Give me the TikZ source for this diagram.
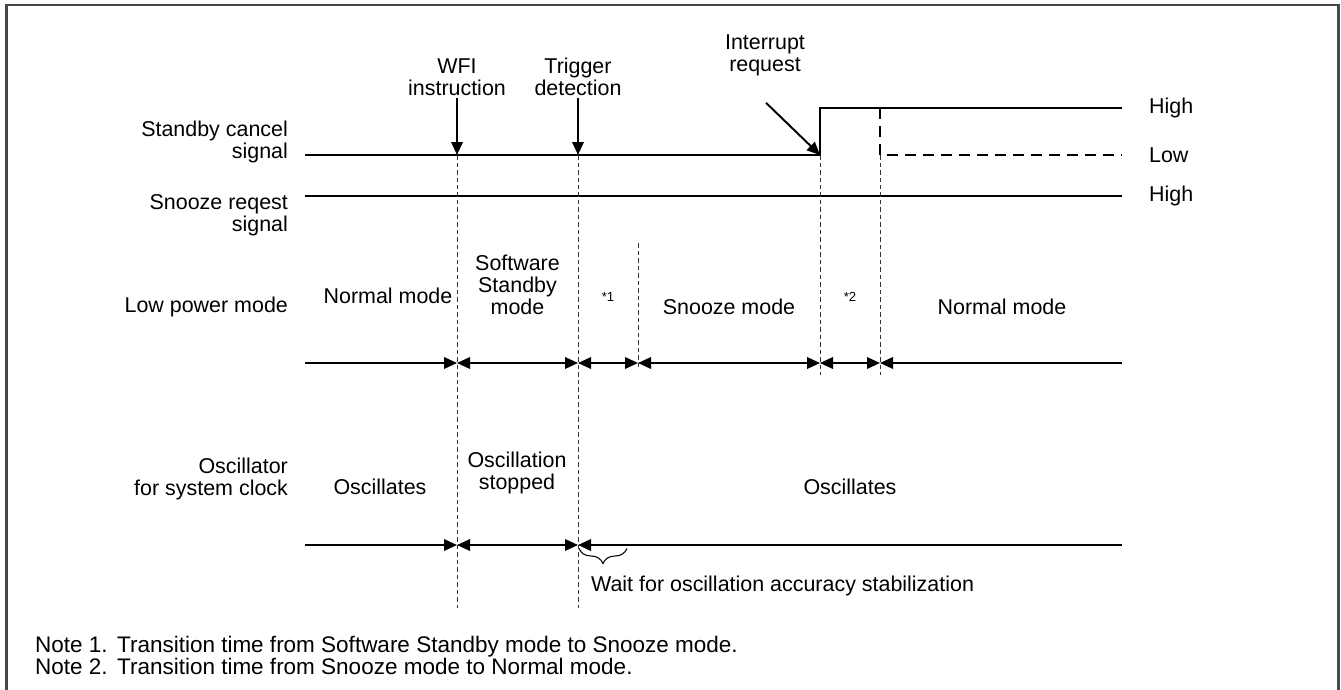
\documentclass[tikz,border=0pt]{standalone}
\usepackage{fontspec}
\setmainfont{Liberation Sans}
\usetikzlibrary{arrows.meta,decorations.pathreplacing,positioning}

\tikzset{
  sig/.style={line width=1.1pt},
  guide/.style={line width=0.55pt, dash pattern=on 0.09cm off 0.06cm, black!80},
  tip/.style={-{Triangle[length=0.26cm,width=0.23cm]}},
  span/.style={sig, {Triangle[length=0.26cm,width=0.23cm]}-{Triangle[length=0.26cm,width=0.23cm]}},
  lbl/.style={font=\fontsize{12.2}{12.6}\selectfont, inner sep=1pt, align=center},
  rowlbl/.style={lbl, align=right, anchor=east},
  notelbl/.style={font=\fontsize{12.8}{13}\selectfont, inner sep=1pt, anchor=base west},
  star/.style={font=\fontsize{7.5}{8}\selectfont, inner sep=0pt}
}

\begin{document}
\begin{tikzpicture}
    \useasboundingbox (0,0) rectangle (26.82,-13.8);
    % outer frame (open at the bottom)
    \draw[line width=1.2pt, black!72] (0.13,-13.8) |- (26.77,-0.1) -- (26.77,-13.8);

    % time points and signal rows
    \coordinate (tS) at (6.1,0);
    \coordinate (tW) at (9.14,0);
    \coordinate (tT) at (11.56,0);
    \coordinate (t1) at (12.76,0);
    \coordinate (tI) at (16.4,0);
    \coordinate (t2) at (17.6,0);
    \coordinate (tE) at (22.44,0);
    \coordinate (rHi) at (0,-2.16);
    \coordinate (rLo) at (0,-3.1);
    \coordinate (rSz) at (0,-3.92);
    \coordinate (rLp) at (0,-7.26);
    \coordinate (rOsc) at (0,-10.9);
    \coordinate (rEnd) at (0,-12.16);

    % row labels
    \node[rowlbl] (scs) at (5.8,-2.84) {Standby cancel\\signal};
    \node[rowlbl] (srs) at (5.8,-4.3) {Snooze reqest\\signal};
    \node[rowlbl] (lpm) at (5.8,-6.14) {Low power mode};
    \node[rowlbl] (osc) at (5.8,-9.58) {Oscillator\\for system clock};

    % event labels
    \node[lbl] (wfi) at (9.14,-1.54) {WFI\\instruction};
    \node[lbl] (trig) at (11.56,-1.54) {Trigger\\detection};
    \node[lbl] (irq) at (15.3,-1.1) {Interrupt\\request};

    % standby cancel signal
    \draw[sig] (tS |- rLo) -- (tI |- rLo) |- (tE |- rHi);
    \draw[sig, dashed, dash pattern=on 0.22cm off 0.14cm] (t2 |- rHi) |- (tE |- rLo);
    \draw[sig, tip] (wfi) -- (tW |- rLo);
    \draw[sig, tip] (trig) -- (tT |- rLo);
    \draw[sig, tip] ([xshift=0.02cm,yshift=-0.5cm]irq.south) -- (tI |- rLo);
    \node[lbl, anchor=west] (hi1) at (22.94,-2.16) {High};
    \node[lbl, anchor=west] (lo1) at (22.94,-3.1) {Low};

    % snooze request signal
    \draw[sig] (tS |- rSz) -- (tE |- rSz);
    \node[lbl, anchor=west] (hi2) at (22.94,-3.92) {High};

    % guide lines
    \draw[guide] (tW |- rLo) -- (tW |- rEnd);
    \draw[guide] (tT |- rLo) -- (tT |- rEnd);
    \draw[guide] (12.76,-4.86) -- (12.76,-7.4);
    \draw[guide] (tI |- rLo) -- (16.4,-7.5);
    \draw[guide] (t2 |- rLo) -- (17.6,-7.5);

    % low power mode
    \draw[sig, tip] (tS |- rLp) -- (tW |- rLp);
    \foreach \a/\b in {tW/tT, tT/t1, t1/tI, tI/t2}
      \draw[span] (\a |- rLp) -- (\b |- rLp);
    \draw[sig, {Triangle[length=0.26cm,width=0.23cm]}-] (t2 |- rLp) -- (tE |- rLp);
    \node[lbl] (nm1) at (7.76,-5.92) {Normal mode};
    \node[lbl] (ssm) at (10.35,-5.7) {Software\\Standby\\mode};
    \node[star] (n1) at (12.16,-5.94) {*1};
    \node[lbl] (snz) at (14.58,-6.14) {Snooze mode};
    \node[star] (n2) at (17.0,-5.94) {*2};
    \node[lbl] (nm2) at (20.04,-6.14) {Normal mode};

    % oscillator
    \draw[sig, tip] (tS |- rOsc) -- (tW |- rOsc);
    \draw[span] (tW |- rOsc) -- (tT |- rOsc);
    \draw[sig, {Triangle[length=0.26cm,width=0.23cm]}-] (tT |- rOsc) -- (tE |- rOsc);
    \node[lbl] (os1) at (7.6,-9.74) {Oscillates};
    \node[lbl] (ost) at (10.34,-9.46) {Oscillation\\stopped};
    \node[lbl] (os2) at (17.0,-9.74) {Oscillates};

    % stabilization wait
    \coordinate (bL) at (11.58,-10.97);
    \coordinate (bR) at (12.54,-10.97);
    \draw[line width=0.6pt, decorate, decoration={brace, mirror, amplitude=0.3cm}] (bL) -- (bR);
    \node[lbl, anchor=west] (wait) at (11.78,-11.72) {Wait for oscillation accuracy stabilization};

    % notes
    \node[notelbl] (nt1) at (0.66,-13.04) {Note 1.};
    \node[notelbl] (tx1) at (2.3,-13.04) {Transition time from Software Standby mode to Snooze mode.};
    \node[notelbl] (nt2) at (0.66,-13.48) {Note 2.};
    \node[notelbl] (tx2) at (2.3,-13.48) {Transition time from Snooze mode to Normal mode.};
  \end{tikzpicture}
\end{document}
